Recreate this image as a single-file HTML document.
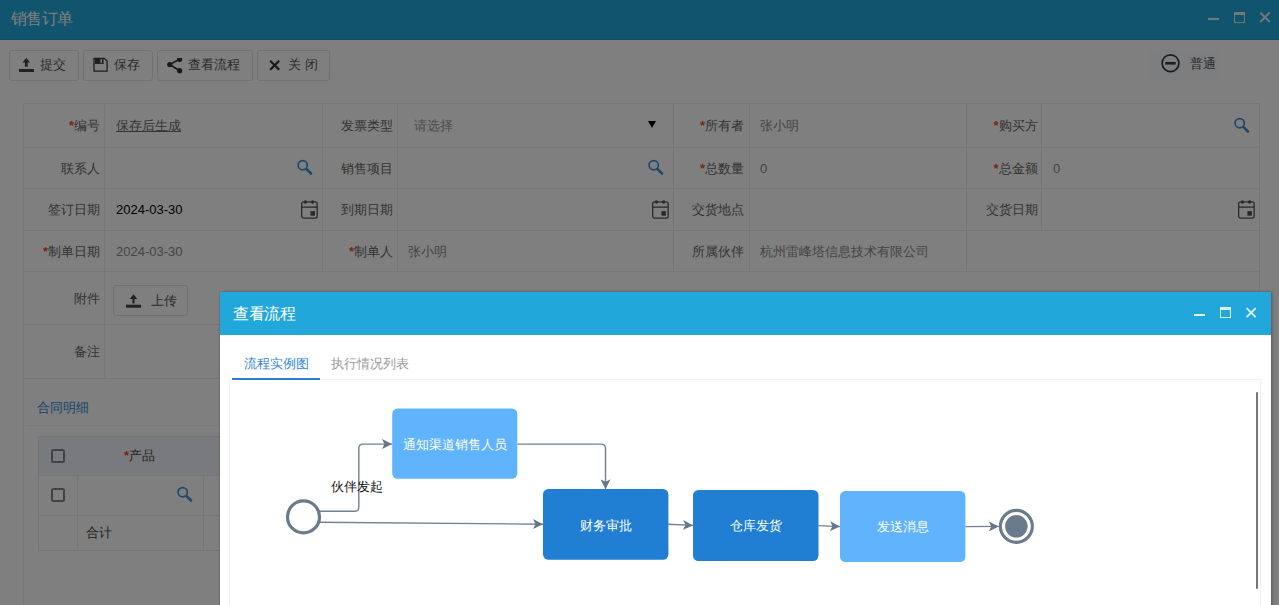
<!DOCTYPE html>
<html><head><meta charset="utf-8">
<style>
*{box-sizing:border-box;margin:0;padding:0}
html,body{width:1279px;height:605px;overflow:hidden;background:#fff;font-family:"Liberation Sans",sans-serif;font-size:13px;color:#666}
.a{position:absolute}
.topbar{left:0;top:0;width:1279px;height:40px;background:#21a8da;border-bottom:1px solid #1a9ed8}
.topbar .t{left:11px;top:9px;font-size:16px;line-height:20px;color:#fff;letter-spacing:-0.6px}
.btn{position:absolute;top:50px;height:31px;border:1px solid #e3e3e3;border-radius:3px;background:#fff;color:#555;font-size:13px;line-height:28px}
.hl{position:absolute;height:1px;background:#ededed}
.vl{position:absolute;width:1px;background:#ededed}
.lb{position:absolute;text-align:right;color:#666;font-size:13px;line-height:16px;margin-top:1px}
.lb i{font-style:normal;color:#f0501a;font-weight:bold}
.vv{position:absolute;color:#888;font-size:13px;line-height:16px;margin-top:1px}
.mask{left:0;top:0;width:1279px;height:605px;background:rgba(0,0,0,.5)}
.modal{left:220px;top:292px;width:1051px;height:330px;background:#fff;box-shadow:0 0 2px rgba(0,0,0,.3),2px 0 3px rgba(0,0,0,.15)}
.mh{left:0;top:0;width:1051px;height:43px;background:#21a7d9}
.mh .t{left:13px;top:12px;letter-spacing:-0.4px;font-size:16px;line-height:20px;color:#fff}
</style></head><body>
<!-- PAGE -->
<div class="a topbar">
  <div class="a t">销售订单</div>
  <div class="a" style="left:1208px;top:18.2px;width:11px;height:2.3px;background:#e8eef0"></div>
  <div class="a" style="left:1234px;top:12px;width:11px;height:11px;border:1.2px solid #e8eef0;border-top-width:3px"></div>
  <svg class="a" style="left:1259px;top:11px" width="12" height="13" viewBox="0 0 12 13"><path d="M1.3 1.5L10.7 11M10.7 1.5L1.3 11" stroke="#e8eef0" stroke-width="1.8"/></svg>
</div>

<!-- toolbar -->
<div class="btn" style="left:9px;width:70px">
  <svg class="a" style="left:9px;top:6px" width="16" height="16" viewBox="0 0 16 16"><path d="M7.4 0.7L3.5 5.6h2.4v4.1h2.8V5.6h2.4z" fill="#444"/><rect x="0" y="12" width="15" height="3" fill="#444"/></svg>
  <span class="a" style="left:30px;top:0">提交</span>
</div>
<div class="btn" style="left:83px;width:70px">
  <svg class="a" style="left:9px;top:6px" width="16" height="16" viewBox="0 0 16 16"><path d="M1 1.3H11.3L14.1 4.1V14.1H1Z" fill="none" stroke="#3a3a3a" stroke-width="1.3"/><rect x="2" y="1.3" width="8.6" height="5.6" fill="#3a3a3a"/><rect x="7.4" y="2.2" width="1.6" height="3.6" fill="#fff"/></svg>
  <span class="a" style="left:30px;top:0">保存</span>
</div>
<div class="btn" style="left:157px;width:96px">
  <svg class="a" style="left:9px;top:7px" width="17" height="17" viewBox="0 0 17 17"><path d="M12.6 1.3L2.7 6.5L12.6 12.7" fill="none" stroke="#333" stroke-width="1.6"/><circle cx="12.6" cy="1.3" r="2.6" fill="#333"/><circle cx="2.7" cy="6.5" r="2.6" fill="#333"/><circle cx="12.6" cy="12.7" r="2.6" fill="#333"/></svg>
  <span class="a" style="left:30px;top:0">查看流程</span>
</div>
<div class="btn" style="left:257px;width:73px">
  <svg class="a" style="left:11px;top:9px" width="12" height="11" viewBox="0 0 12 11"><path d="M1.2 0.8L10.2 9.8M10.2 0.8L1.2 9.8" stroke="#333" stroke-width="2.2"/></svg>
  <span class="a" style="left:30px;top:0">关 闭</span>
</div>
<div class="a" style="left:1147px;top:50px;width:73px;height:29px;background:#fbfcfe">
  <svg class="a" style="left:13px;top:3px" width="21" height="21" viewBox="0 0 21 21"><circle cx="10.5" cy="10.2" r="8.4" fill="none" stroke="#3a3a3a" stroke-width="1.7"/><rect x="5.3" y="9" width="10.4" height="2.6" fill="#3a3a3a"/></svg>
  <span class="a" style="left:43px;top:6px;color:#555;line-height:16px">普通</span>
</div>

<!-- form grid -->
<div id="grid"></div>
<div class="hl" style="left:23px;top:103px;width:1237px"></div>
<div class="hl" style="left:23px;top:147px;width:1237px"></div>
<div class="hl" style="left:23px;top:188px;width:1237px"></div>
<div class="hl" style="left:23px;top:230px;width:1237px"></div>
<div class="hl" style="left:23px;top:271px;width:1237px"></div>
<div class="hl" style="left:23px;top:324px;width:1237px"></div>
<div class="hl" style="left:23px;top:378px;width:1237px"></div>
<div class="hl" style="left:26px;top:425px;width:1233px;background:#f3f3f3"></div>
<div class="vl" style="left:23px;top:103px;height:502px"></div>
<div class="vl" style="left:1259px;top:103px;height:502px"></div>
<div class="vl" style="left:104px;top:103px;height:275px"></div>
<div class="vl" style="left:322px;top:103px;height:168px"></div>
<div class="vl" style="left:397px;top:103px;height:168px"></div>
<div class="vl" style="left:673px;top:103px;height:168px"></div>
<div class="vl" style="left:749px;top:103px;height:168px"></div>
<div class="vl" style="left:966px;top:103px;height:168px"></div>
<div class="vl" style="left:1041px;top:103px;height:127px"></div>

<!-- labels row1 -->
<div class="lb" style="left:23px;width:77px;top:117px"><i>*</i>编号</div>
<div class="lb" style="left:322px;width:71px;top:117px">发票类型</div>
<div class="lb" style="left:674px;width:70px;top:117px"><i>*</i>所有者</div>
<div class="lb" style="left:966px;width:71.5px;top:117px"><i>*</i>购买方</div>
<div class="vv" style="left:116px;top:117px;color:#6a6a6a;text-decoration:underline;margin-top:1px">保存后生成</div>
<div class="vv" style="left:414px;top:117px;color:#999">请选择</div>
<div class="a" style="left:648px;top:121px;width:0;height:0;border-left:4px solid transparent;border-right:4px solid transparent;border-top:7px solid #000"></div>
<div class="vv" style="left:760px;top:117px">张小明</div>
<!-- row2 -->
<div class="lb" style="left:23px;width:77px;top:160px">联系人</div>
<div class="lb" style="left:322px;width:71px;top:160px">销售项目</div>
<div class="lb" style="left:674px;width:70px;top:160px"><i>*</i>总数量</div>
<div class="lb" style="left:966px;width:71.5px;top:160px"><i>*</i>总金额</div>
<div class="vv" style="left:760px;top:160px">0</div>
<div class="vv" style="left:1053px;top:160px">0</div>
<!-- row3 -->
<div class="lb" style="left:23px;width:77px;top:201px">签订日期</div>
<div class="lb" style="left:322px;width:71px;top:201px">到期日期</div>
<div class="lb" style="left:674px;width:70px;top:201px">交货地点</div>
<div class="lb" style="left:966px;width:71.5px;top:201px">交货日期</div>
<div class="vv" style="left:116px;top:201px;color:#000">2024-03-30</div>
<!-- row4 -->
<div class="lb" style="left:23px;width:77px;top:243px"><i>*</i>制单日期</div>
<div class="lb" style="left:322px;width:71px;top:243px"><i>*</i>制单人</div>
<div class="lb" style="left:674px;width:70px;top:243px">所属伙伴</div>
<div class="vv" style="left:116px;top:243px">2024-03-30</div>
<div class="vv" style="left:408px;top:243px">张小明</div>
<div class="vv" style="left:760px;top:243px">杭州雷峰塔信息技术有限公司</div>
<!-- row5/6 -->
<div class="lb" style="left:23px;width:77px;top:290px">附件</div>
<div class="lb" style="left:23px;width:77px;top:343px">备注</div>
<div class="btn" style="left:113px;top:285px;width:75px;height:31px;border-color:#dfe3e8">
  <svg class="a" style="left:12px;top:7px" width="16" height="16" viewBox="0 0 16 16"><path d="M7.5 1.2L3.6 6h2.8v4.5h2.2V6h2.8z" fill="#444"/><rect x="0" y="11.7" width="15" height="3" fill="#444"/></svg>
  <span class="a" style="left:37px;top:1px">上传</span>
</div>

<!-- search icons -->
<svg class="a" style="left:296px;top:158px" width="18" height="18" viewBox="0 0 18 18"><circle cx="6.7" cy="7.2" r="4.6" fill="none" stroke="#3c8fd6" stroke-width="1.7"/><path d="M10.3 10.8L15 15.5" stroke="#3c8fd6" stroke-width="2.6" stroke-linecap="round"/></svg>
<svg class="a" style="left:647px;top:158px" width="18" height="18" viewBox="0 0 18 18"><circle cx="6.7" cy="7.2" r="4.6" fill="none" stroke="#3c8fd6" stroke-width="1.7"/><path d="M10.3 10.8L15 15.5" stroke="#3c8fd6" stroke-width="2.6" stroke-linecap="round"/></svg>
<svg class="a" style="left:1233px;top:116px" width="18" height="18" viewBox="0 0 18 18"><circle cx="6.7" cy="7.2" r="4.6" fill="none" stroke="#3c8fd6" stroke-width="1.7"/><path d="M10.3 10.8L15 15.5" stroke="#3c8fd6" stroke-width="2.6" stroke-linecap="round"/></svg>
<!-- calendar icons -->
<svg class="a" style="left:300px;top:200px" width="19" height="20" viewBox="0 0 19 20"><rect x="1.65" y="1.85" width="15.5" height="16.2" rx="2" fill="none" stroke="#555" stroke-width="1.3"/><path d="M1.65 7.1h15.5" stroke="#555" stroke-width="1.3"/><circle cx="5.4" cy="2" r="1.7" fill="#555"/><circle cx="12.6" cy="2" r="1.7" fill="#555"/><rect x="10.4" y="11.1" width="4.5" height="4.6" fill="#555"/></svg>
<svg class="a" style="left:651px;top:200px" width="19" height="20" viewBox="0 0 19 20"><rect x="1.65" y="1.85" width="15.5" height="16.2" rx="2" fill="none" stroke="#555" stroke-width="1.3"/><path d="M1.65 7.1h15.5" stroke="#555" stroke-width="1.3"/><circle cx="5.4" cy="2" r="1.7" fill="#555"/><circle cx="12.6" cy="2" r="1.7" fill="#555"/><rect x="10.4" y="11.1" width="4.5" height="4.6" fill="#555"/></svg>
<svg class="a" style="left:1237px;top:200px" width="19" height="20" viewBox="0 0 19 20"><rect x="1.65" y="1.85" width="15.5" height="16.2" rx="2" fill="none" stroke="#555" stroke-width="1.3"/><path d="M1.65 7.1h15.5" stroke="#555" stroke-width="1.3"/><circle cx="5.4" cy="2" r="1.7" fill="#555"/><circle cx="12.6" cy="2" r="1.7" fill="#555"/><rect x="10.4" y="11.1" width="4.5" height="4.6" fill="#555"/></svg>

<!-- detail section -->
<div class="a" style="left:37px;top:400px;color:#2f86d8;line-height:16px">合同明细</div>
<div class="a" style="left:38px;top:436px;width:189px;height:115px;border:1px solid #e9e9e9;border-right:none"></div>
<div class="a" style="left:39px;top:437px;width:188px;height:38px;background:#f2f5fa"></div>
<div class="hl" style="left:38px;top:475px;width:189px"></div>
<div class="hl" style="left:38px;top:515px;width:189px"></div>
<div class="vl" style="left:77px;top:475px;height:76px"></div>
<div class="vl" style="left:203px;top:475px;height:76px"></div>
<div class="a" style="left:51px;top:449px;width:14px;height:14px;border:2px solid #7f848e;border-radius:2.5px"></div>
<div class="a" style="left:51px;top:488px;width:14px;height:14px;border:2px solid #7f848e;border-radius:2.5px"></div>
<div class="a" style="left:124px;top:448px;color:#444;line-height:16px"><i style="font-style:normal;color:#f0501a;font-weight:bold">*</i>产品</div>
<div class="a" style="left:86px;top:525px;color:#444;line-height:16px">合计</div>
<svg class="a" style="left:176px;top:485px" width="18" height="18" viewBox="0 0 18 18"><circle cx="6.7" cy="7.2" r="4.6" fill="none" stroke="#3c8fd6" stroke-width="1.7"/><path d="M10.3 10.8L15 15.5" stroke="#3c8fd6" stroke-width="2.6" stroke-linecap="round"/></svg>

<!-- MASK -->
<div class="a mask"></div>

<!-- MODAL -->
<div class="a modal">
  <div class="a mh">
    <div class="a t">查看流程</div>
    <div class="a" style="left:974px;top:21.5px;width:11.3px;height:2.4px;background:#dcf1fa"></div>
    <div class="a" style="left:1000px;top:15.2px;width:11px;height:10.8px;border:1.2px solid #dcf1fa;border-top-width:3px"></div>
    <svg class="a" style="left:1025px;top:15px" width="12" height="12" viewBox="0 0 12 12"><path d="M1.6 1.1L10.7 10.2M10.7 1.1L1.6 10.2" stroke="#dcf1fa" stroke-width="1.8"/></svg>
  </div>
  <div class="a" style="left:24px;top:64px;color:#2f86d8;line-height:16px">流程实例图</div>
  <div class="a" style="left:111px;top:64px;color:#999;line-height:16px">执行情况列表</div>
  <div class="a" style="left:12px;top:86px;width:88px;height:2px;background:#2a7fd4"></div>
  <div class="a" style="left:100px;top:87px;width:941px;height:1px;background:#f0f0f0"></div>
  <div class="a" style="left:9px;top:88px;width:1px;height:240px;background:#eef1f5"></div>
  <div class="a" style="left:1040px;top:88px;width:1px;height:240px;background:#eef1f5"></div>
  <div class="a" style="left:1036px;top:100px;width:2px;height:197px;background:#777;border-radius:1px"></div>
</div>

<!-- FLOW -->
<svg class="a" style="left:0;top:0" width="1279" height="605" viewBox="0 0 1279 605">
  <defs>
    <marker id="ar" markerWidth="10" markerHeight="10" refX="10" refY="5" orient="auto" markerUnits="userSpaceOnUse">
      <path d="M0 0L10 5L0 10L2.5 5z" fill="#63778a"/>
    </marker>
  </defs>
  <g fill="none" stroke="#6f8294" stroke-width="1.4">
    <path d="M318 511.3H354.5Q358.8 511.3 358.8 507V448.4Q358.8 444.1 363 444.1H392" marker-end="url(#ar)"/>
    <path d="M318 522.2L543 524.2" marker-end="url(#ar)"/>
    <path d="M517.3 444.1H601.2Q605.5 444.1 605.5 448.4V489.3" marker-end="url(#ar)"/>
    <path d="M668.3 524.3L693 525.4" marker-end="url(#ar)"/>
    <path d="M818.5 525.6L840 526.6" marker-end="url(#ar)"/>
    <path d="M965.4 526.6L998.8 526.4" marker-end="url(#ar)"/>
  </g>
  <circle cx="303.5" cy="516.9" r="16" fill="#fff" stroke="#677b8d" stroke-width="3.2"/>
  <circle cx="1016.35" cy="526.35" r="16" fill="#fff" stroke="#677b8d" stroke-width="3.1"/>
  <circle cx="1016.35" cy="526.35" r="11" fill="#687c8e" stroke="#7a7474" stroke-width="0.6"/>
  <rect x="392.2" y="408.5" width="125.1" height="70.3" rx="5.5" fill="#60b3fd"/>
  <rect x="543" y="489" width="125.4" height="70.8" rx="5.5" fill="#217fd3"/>
  <rect x="693" y="490" width="125.5" height="71" rx="5.5" fill="#217fd3"/>
  <rect x="840" y="491" width="125.4" height="71" rx="5.5" fill="#60b3fd"/>
  <g font-family="Liberation Sans, sans-serif" font-size="13" fill="#fff" text-anchor="middle">
    <text x="454.7" y="449">通知渠道销售人员</text>
    <text x="605.7" y="529.6">财务审批</text>
    <text x="755.7" y="530.4">仓库发货</text>
    <text x="902.7" y="531.4">发送消息</text>
  </g>
  <text x="331" y="491" font-family="Liberation Sans, sans-serif" font-size="13" fill="#111">伙伴发起</text>
</svg>
</body></html>
